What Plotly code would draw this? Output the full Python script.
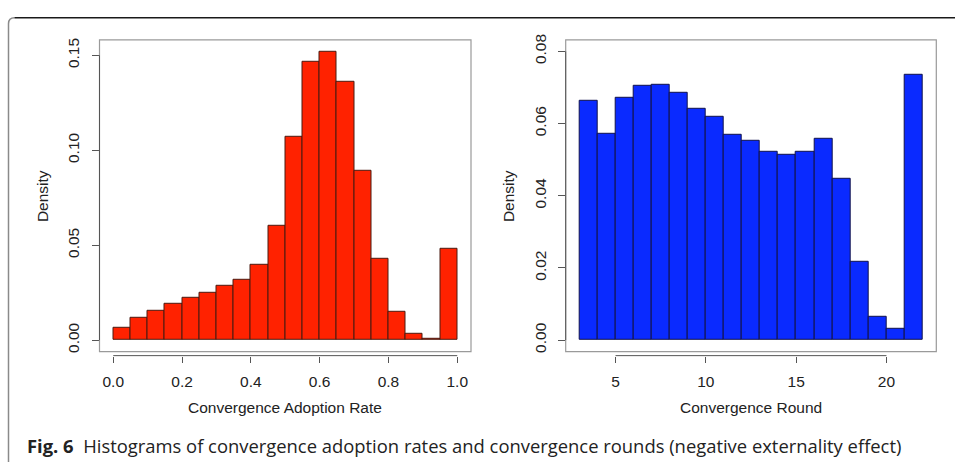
import plotly.graph_objects as go

# ---------------- data ----------------
rate_bin_start = 0.0
rate_bin_width = 0.05
rate_density = [0.0066, 0.0116, 0.0156, 0.0191, 0.0222, 0.0249, 0.0286, 0.0320,
                0.0398, 0.0603, 0.1072, 0.1467, 0.1519, 0.1358, 0.0892, 0.0428,
                0.0151, 0.0035, 0.0005, 0.0482]
rate_xticks = [0.0, 0.2, 0.4, 0.6, 0.8, 1.0]
rate_xticklabels = ["0.0", "0.2", "0.4", "0.6", "0.8", "1.0"]
rate_yticks = [0.00, 0.05, 0.10, 0.15]
rate_yticklabels = ["0.00", "0.05", "0.10", "0.15"]

round_bin_start = 3
round_bin_width = 1
round_density = [0.0663, 0.0571, 0.0672, 0.0704, 0.0707, 0.0684, 0.0641, 0.0618,
                 0.0570, 0.0552, 0.0523, 0.0514, 0.0523, 0.0558, 0.0446, 0.0218,
                 0.0065, 0.0031, 0.0734]
round_xticks = [5, 10, 15, 20]
round_xticklabels = ["5", "10", "15", "20"]
round_yticks = [0.00, 0.02, 0.04, 0.06, 0.08]
round_yticklabels = ["0.00", "0.02", "0.04", "0.06", "0.08"]

x_title_left = "Convergence Adoption Rate"
x_title_right = "Convergence Round"
y_title = "Density"
caption_bold = "Fig. 6"
caption_text = "Histograms of convergence adoption rates and convergence rounds (negative externality effect)"

# ---------------- layout helpers ----------------
W, H = 955, 463
def px(x):
    return x / W
def py(y):
    return 1 - y / H

AX_FONT = dict(family="Liberation Sans, Arial, sans-serif", size=15.5, color="#222222")
RED = "#ff2200"
BLUE = "#0a2aff"

rate_centers = [rate_bin_start + rate_bin_width * (i + 0.5) for i in range(len(rate_density))]
round_centers = [round_bin_start + round_bin_width * (i + 0.5) for i in range(len(round_density))]

fig = go.Figure()
fig.add_trace(go.Bar(x=rate_centers, y=rate_density, width=[rate_bin_width] * len(rate_density),
                     marker=dict(color=RED, line=dict(color="#4a1a10", width=1)),
                     xaxis="x", yaxis="y", showlegend=False, hoverinfo="x+y"))
fig.add_trace(go.Bar(x=round_centers, y=round_density, width=[round_bin_width] * len(round_density),
                     marker=dict(color=BLUE, line=dict(color="#10124a", width=1)),
                     xaxis="x2", yaxis="y2", showlegend=False, hoverinfo="x+y"))

left_dom_x = [px(99.5), px(471)]
right_dom_x = [px(565.7), px(936.3)]
dom_y = [py(351), py(34.3)]
xaxis_pos = py(355)

rate_n = len(rate_density)
round_n = len(round_density)
rate_lo, rate_hi = rate_bin_start, rate_bin_start + rate_bin_width * rate_n
round_lo, round_hi = round_bin_start, round_bin_start + round_bin_width * round_n
rate_pad = (rate_hi - rate_lo) * 0.04
round_pad = (round_hi - round_lo) * 0.04
rate_ymax = max(rate_yticks[-1], max(rate_density))
round_ymax = max(round_yticks[-1], max(round_density))

common_x = dict(showgrid=False, zeroline=False, showline=False, ticks="outside", ticklen=6,
                tickwidth=1, tickcolor="#555555", tickfont=AX_FONT, anchor="free",
                position=xaxis_pos, ticklabelstandoff=6)
common_y = dict(showgrid=False, zeroline=False, showline=False, ticks="outside", ticklen=7,
                tickwidth=1, tickcolor="#555555", tickfont=AX_FONT, tickangle=-90,
                ticklabelstandoff=6)

fig.update_layout(
    width=W, height=H, margin=dict(l=0, r=0, t=0, b=0),
    paper_bgcolor="white", plot_bgcolor="white", bargap=0,
    xaxis=dict(domain=left_dom_x, range=[rate_lo - rate_pad, rate_hi + rate_pad],
               tickvals=rate_xticks, ticktext=rate_xticklabels, **common_x),
    yaxis=dict(domain=dom_y, range=[-rate_ymax * 0.04, rate_ymax * 1.04 + 0.0002], anchor="x",
               tickvals=rate_yticks, ticktext=rate_yticklabels, **common_y),
    xaxis2=dict(domain=right_dom_x, range=[round_lo - round_pad, round_hi + round_pad],
                tickvals=round_xticks, ticktext=round_xticklabels, **common_x),
    yaxis2=dict(domain=dom_y, range=[-round_ymax * 0.04, round_ymax * 1.04], anchor="x2",
                tickvals=round_yticks, ticktext=round_yticklabels, **common_y),
)

shapes = []
# plot boxes
for xd in (left_dom_x, right_dom_x):
    shapes.append(dict(type="rect", xref="paper", yref="paper", x0=xd[0], x1=xd[1],
                       y0=dom_y[0], y1=dom_y[1], line=dict(color="#9a9a9a", width=1.2),
                       fillcolor="rgba(0,0,0,0)", layer="above"))
# R-style axis lines spanning first to last tick
shapes.append(dict(type="line", xref="x", yref="paper", x0=rate_xticks[0], x1=rate_xticks[-1],
                   y0=xaxis_pos, y1=xaxis_pos, line=dict(color="#555555", width=1)))
shapes.append(dict(type="line", xref="x2", yref="paper", x0=round_xticks[0], x1=round_xticks[-1],
                   y0=xaxis_pos, y1=xaxis_pos, line=dict(color="#555555", width=1)))
shapes.append(dict(type="line", xref="paper", yref="y", x0=left_dom_x[0], x1=left_dom_x[0],
                   y0=rate_yticks[0], y1=rate_yticks[-1], line=dict(color="#555555", width=1)))
shapes.append(dict(type="line", xref="paper", yref="y2", x0=right_dom_x[0], x1=right_dom_x[0],
                   y0=round_yticks[0], y1=round_yticks[-1], line=dict(color="#555555", width=1)))
# outer figure frame (rounded top-left corner)
shapes.append(dict(type="path", xref="paper", yref="paper",
                   path=f"M {px(8.5)},{py(463)} L {px(8.5)},{py(18)} Q {px(8.5)},{py(12)} {px(14.5)},{py(12)}",
                   line=dict(color="#8a8a8a", width=1.5)))
shapes.append(dict(type="line", xref="paper", yref="paper", x0=px(14.5), x1=1.0,
                   y0=py(12), y1=py(12), line=dict(color="#1a1a1a", width=1.5)))
fig.update_layout(shapes=shapes)

annotations = [
    dict(text=x_title_left, x=px(285), y=py(408), xref="paper", yref="paper",
         showarrow=False, font=AX_FONT, xanchor="center", yanchor="middle"),
    dict(text=x_title_right, x=px(751), y=py(408), xref="paper", yref="paper",
         showarrow=False, font=AX_FONT, xanchor="center", yanchor="middle"),
    dict(text=y_title, x=px(42), y=py(193), xref="paper", yref="paper", textangle=-90,
         showarrow=False, font=AX_FONT, xanchor="center", yanchor="middle"),
    dict(text=y_title, x=px(508), y=py(193), xref="paper", yref="paper", textangle=-90,
         showarrow=False, font=AX_FONT, xanchor="center", yanchor="middle"),
    dict(text=f"<b>{caption_bold}</b>\u00a0\u00a0{caption_text}", x=px(24.5), y=py(446.5),
         xref="paper", yref="paper", showarrow=False, xanchor="left", yanchor="middle",
         font=dict(family="Open Sans, Noto Sans, sans-serif", size=18.4, color="#222222")),
]
fig.update_layout(annotations=annotations)

fig.write_html("out.html", config={"displayModeBar": False},
               post_script="document.body.style.margin='0px';document.body.style.overflow='hidden';")
